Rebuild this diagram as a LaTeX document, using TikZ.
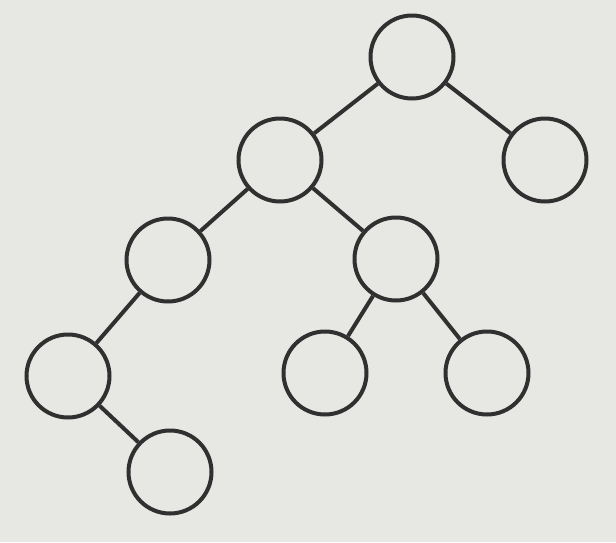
\documentclass[tikz,border=0pt]{standalone}
\definecolor{bg}{HTML}{E7E7E4}
\definecolor{ink}{HTML}{303030}
\begin{document}
\begin{tikzpicture}[x=1pt,y=-1pt,
  vert/.style={circle,draw=ink,line width=4pt,minimum size=83pt,inner sep=0pt},
  edge/.style={draw=ink,line width=4pt}]
\fill[bg] (0,0) rectangle (616,542);
\useasboundingbox (0,0) rectangle (616,542);
\node[vert] (r) at (412,57) {};
\node[vert] (a) at (280,160) {};
\node[vert] (b) at (545,160) {};
\node[vert] (c) at (168,260) {};
\node[vert] (d) at (396,259) {};
\node[vert] (e) at (68,376) {};
\node[vert] (f) at (325,373) {};
\node[vert] (g) at (487,373) {};
\node[vert] (h) at (170,472) {};
\draw[edge] (r) -- (a);
\draw[edge] (r) -- (b);
\draw[edge] (a) -- (c);
\draw[edge] (a) -- (d);
\draw[edge] (c) -- (e);
\draw[edge] (e) -- (h);
\draw[edge] (d) -- (f);
\draw[edge] (d) -- (g);
\end{tikzpicture}
\end{document}
